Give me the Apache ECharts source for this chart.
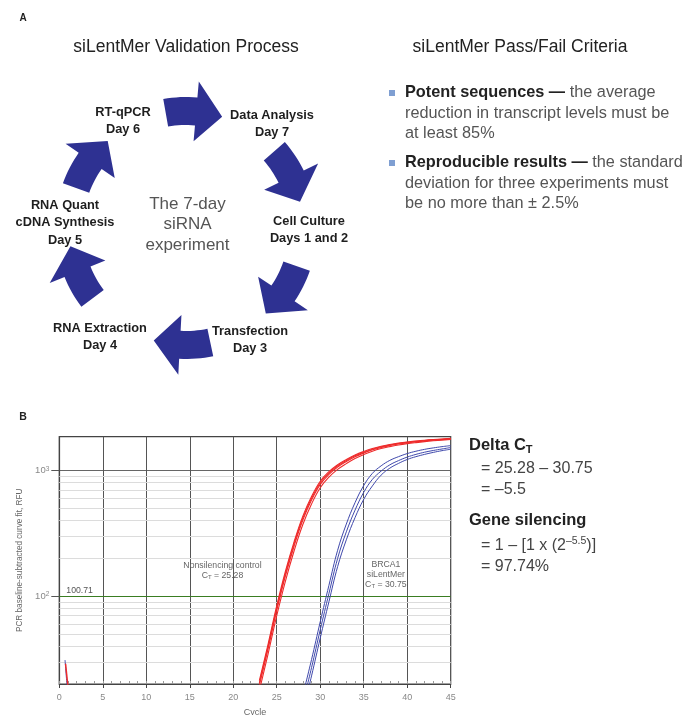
<!DOCTYPE html>
<html>
<head>
<meta charset="utf-8">
<title>siLentMer validation</title>
<script src="https://cdn.jsdelivr.net/npm/echarts@6.0.0/dist/echarts.min.js"></script>
<style>
  html, body { margin: 0; padding: 0; background: #fff; }
  #chart { width: 686px; height: 715px; }
</style>
</head>
<body>
<div id="chart"></div>
<script>
// ---- panel B data ----
var redCycles = [23, 24, 25, 26, 27, 28, 29, 30, 31, 32, 33, 34, 35, 36, 37, 38, 39, 40, 41, 42, 43, 44, 45];
var redRep1 = [19.5, 38, 77, 145, 251, 403, 582, 776, 933, 1067, 1180, 1288, 1380, 1462, 1528, 1581, 1626, 1663, 1694, 1722, 1746, 1766, 1786];
var redRep2 = [21.3, 41.4, 84, 158, 272, 434, 622, 822, 980, 1113, 1224, 1329, 1418, 1497, 1560, 1611, 1654, 1689, 1718, 1744, 1766, 1784, 1803];
var redRep3 = [17.7, 34.6, 70, 132, 230, 372, 542, 730, 886, 1021, 1136, 1247, 1342, 1427, 1496, 1551, 1598, 1637, 1670, 1700, 1726, 1748, 1769];
var redRep4 = [20.4, 39.7, 80.5, 151.5, 262, 419, 603, 800, 957, 1091, 1203, 1309, 1400, 1480, 1545, 1597, 1641, 1677, 1707, 1734, 1757, 1776, 1795];

var blueCycles = [28, 29, 30, 31, 32, 33, 34, 35, 36, 37, 38, 39, 40, 41, 42, 43, 44, 45];
var blueRep1 = [16.3, 31.3, 62.6, 122, 232, 375, 555, 760, 950, 1090, 1205, 1290, 1365, 1425, 1475, 1515, 1550, 1580];
var blueRep2 = [14, 27, 54, 105, 200, 325, 484, 671, 851, 990, 1110, 1200, 1280, 1345, 1400, 1445, 1485, 1525];
var blueRep3 = [12, 23.2, 46.4, 90.3, 172, 281, 422, 590, 755, 920, 1045, 1140, 1225, 1290, 1345, 1395, 1440, 1478];

// short fitted tails at the very start of the run
var redStartCycles = [0.72, 0.98];
var redStart = [29, 19.5];
var blueStartCycles = [0.66, 0.9];
var blueStart = [31, 19];

var threshold = 100.71;
var yTickValues = [100, 1000];
var minorGridValues = [30, 40, 50, 60, 70, 80, 90, 200, 300, 400, 500, 600, 700, 800, 900];
var ctControl = '25.28';
var ctBrca = '30.75';

// ---- panel A text ----
var stepLabels = [
  ['RT-qPCR', 'Day 6'],
  ['Data Analysis', 'Day 7'],
  ['Cell Culture', 'Days 1 and 2'],
  ['Transfection', 'Day 3'],
  ['RNA Extraction', 'Day 4'],
  ['RNA Quant', 'cDNA Synthesis', 'Day 5']
];
var centerLines = ['The 7-day', 'siRNA', 'experiment'];
var criteria = [
  { bold: 'Potent sequences \u2014', lines: ['the average', 'reduction in transcript levels must be', 'at least 85%'] },
  { bold: 'Reproducible results \u2014', lines: ['the standard', 'deviation for three experiments must', 'be no more than \u00b1 2.5%'] }
];

var FF = '"Liberation Sans", Arial, Helvetica, sans-serif';
var RED = '#ee2b2b';
var BLUE = '#3f48ab';
var NAVY = '#2e3192';

function pairs(xs, ys) {
  return xs.map(function (x, i) { return [x, ys[i]]; });
}

function curve(xs, ys, color, width) {
  return {
    type: 'line', data: pairs(xs, ys), smooth: 0.4,
    symbol: 'none', silent: true, clip: true, z: 5,
    lineStyle: { color: color, width: width || 1 }
  };
}

// curved arrows of the cycle (panel A)
function arrowPoints(cx, cy, r, midDeg) {
  var w = 14, hw = 30, shaft = 15, head = 13;
  var t0 = midDeg - (shaft + head) / 2, t1 = t0 + shaft, t2 = t1 + head;
  function pt(deg, rad) {
    var a = deg * Math.PI / 180;
    return [cx + rad * Math.cos(a), cy + rad * Math.sin(a)];
  }
  var pts = [], i;
  for (i = 0; i <= 8; i++) pts.push(pt(t0 + shaft * i / 8, r + w));
  pts.push(pt(t1, r + hw));
  pts.push(pt(t2, r));
  pts.push(pt(t1, r - hw));
  for (i = 8; i >= 0; i--) pts.push(pt(t0 + shaft * i / 8, r - w));
  return pts;
}

var arrowAngles = [-86, -27, 33, 92, 157, 214];
var stepPos = [[123, 112], [272, 115], [309, 221], [250, 331], [100, 328], [65, 205]];

var graphics = [];
graphics.push({ type: 'text', x: 23, y: 18, style: { text: 'A', fontFamily: FF, fontSize: 10, fontWeight: 'bold', fill: '#222', align: 'center', verticalAlign: 'middle' } });
graphics.push({ type: 'text', x: 23, y: 417, style: { text: 'B', fontFamily: FF, fontSize: 10.5, fontWeight: 'bold', fill: '#222', align: 'center', verticalAlign: 'middle' } });
graphics.push({ type: 'text', x: 186, y: 47, style: { text: 'siLentMer Validation Process', fontFamily: FF, fontSize: 17.5, fill: '#222', align: 'center', verticalAlign: 'middle' } });
graphics.push({ type: 'text', x: 520, y: 47, style: { text: 'siLentMer Pass/Fail Criteria', fontFamily: FF, fontSize: 17.5, fill: '#222', align: 'center', verticalAlign: 'middle' } });

arrowAngles.forEach(function (a) {
  graphics.push({ type: 'polygon', shape: { points: arrowPoints(186, 228, 117, a) }, style: { fill: NAVY } });
});

stepLabels.forEach(function (lines, i) {
  lines.forEach(function (t, k) {
    graphics.push({
      type: 'text', x: stepPos[i][0], y: stepPos[i][1] + k * 17.5,
      style: { text: t, fontFamily: FF, fontSize: 12.8, fontWeight: 'bold', fill: '#1e1e1e', align: 'center', verticalAlign: 'middle' }
    });
  });
});

centerLines.forEach(function (t, k) {
  graphics.push({
    type: 'text', x: 187.5, y: 204 + k * 20.5,
    style: { text: t, fontFamily: FF, fontSize: 17, fill: '#555', align: 'center', verticalAlign: 'middle' }
  });
});

var critTop = [93, 163];
criteria.forEach(function (c, i) {
  graphics.push({ type: 'rect', shape: { x: 389, y: critTop[i] - 3, width: 6, height: 6 }, style: { fill: '#7f9fd2' } });
  var txt = '{b|' + c.bold + '} {r|' + c.lines[0] + '}';
  for (var k = 1; k < c.lines.length; k++) txt += '\n{r|' + c.lines[k] + '}';
  graphics.push({
    type: 'text', x: 405, y: critTop[i] - 10.25,
    style: {
      text: txt, fontFamily: FF, fontSize: 16.3, fill: '#555', align: 'left', verticalAlign: 'top',
      rich: {
        b: { fontFamily: FF, fontSize: 16.3, fontWeight: 'bold', fill: '#222', lineHeight: 20.5 },
        r: { fontFamily: FF, fontSize: 16.3, fill: '#555', lineHeight: 20.5 }
      }
    }
  });
});

// panel B right-hand calculation
var calcRich = {
  b: { fontFamily: FF, fontSize: 16.5, fontWeight: 'bold', fill: '#222', lineHeight: 20 },
  bs: { fontFamily: FF, fontSize: 11, fontWeight: 'bold', fill: '#222', lineHeight: 11, verticalAlign: 'bottom' },
  r: { fontFamily: FF, fontSize: 16, fill: '#444', lineHeight: 20 },
  sup: { fontFamily: FF, fontSize: 10.5, fill: '#444', lineHeight: 10.5, verticalAlign: 'top' }
};
var calcLines = [
  [469, 445, '{b|Delta C}{bs|T}'],
  [481, 469, '{r|= ' + ctControl + ' \u2013 ' + ctBrca + '}'],
  [481, 490, '{r|= \u20135.5}'],
  [469, 520, '{b|Gene silencing}'],
  [481, 546, '{r|= 1 \u2013 [1 x (2}{sup|\u20135.5}{r|)]}'],
  [481, 567, '{r|= 97.74%}']
];
calcLines.forEach(function (l) {
  graphics.push({
    type: 'text', x: l[0], y: l[1],
    style: { text: l[2], fontFamily: FF, fontSize: 16, fill: '#444', align: 'left', verticalAlign: 'middle', rich: calcRich }
  });
});

var annotRich = {
  n: { fontFamily: FF, fontSize: 8.7, color: '#666', lineHeight: 10 },
  s: { fontFamily: FF, fontSize: 6, color: '#666', lineHeight: 6, verticalAlign: 'bottom' }
};

var series = [
  {
    type: 'line', data: [], silent: true, z: 1,
    markLine: {
      silent: true, symbol: 'none', animation: false,
      label: { show: false },
      lineStyle: { color: '#dcdcdc', width: 1.2, type: 'solid' },
      data: minorGridValues.map(function (v) { return { yAxis: v }; })
    }
  },
  {
    type: 'line', data: [], silent: true, z: 3,
    markLine: {
      silent: true, symbol: 'none', animation: false,
      lineStyle: { color: '#3a7d22', width: 1.2, type: 'solid' },
      label: {
        show: true, position: 'insideStartTop', distance: 1, padding: [0, 0, 0, 6],
        formatter: function () { return threshold.toFixed(2); },
        color: '#555', fontSize: 8.7, fontFamily: FF
      },
      data: [{ yAxis: threshold }]
    }
  },
  curve(redCycles, redRep1, RED, 1.1),
  curve(redCycles, redRep2, RED, 1.1),
  curve(redCycles, redRep3, RED, 1.1),
  curve(redCycles, redRep4, RED, 1.1),
  curve(blueCycles, blueRep1, BLUE),
  curve(blueCycles, blueRep2, BLUE),
  curve(blueCycles, blueRep3, BLUE),
  curve(blueStartCycles, blueStart, BLUE),
  curve(redStartCycles, redStart, RED, 1.5),
  {
    type: 'line', data: [], silent: true, z: 6,
    markPoint: {
      silent: true, symbol: 'circle', symbolSize: 0, itemStyle: { color: 'rgba(0,0,0,0)' },
      label: { show: true, position: 'inside', align: 'center', rich: annotRich },
      data: [
        { coord: [18.76, 160], label: { formatter: function () { return '{n|Nonsilencing control}\n{n|C}{s|T}{n| = ' + ctControl + '}'; } } },
        { coord: [37.55, 148], label: { formatter: function () { return '{n|BRCA1}\n{n|siLentMer}\n{n|C}{s|T}{n| = ' + ctBrca + '}'; } } }
      ]
    }
  }
];

var chart = echarts.init(document.getElementById('chart'), null, { renderer: 'canvas' });
chart.setOption({
  backgroundColor: '#fff',
  animation: false,
  textStyle: { fontFamily: FF },
  grid: {
    left: 59.3, top: 436.7, width: 391.4, height: 247.3,
    show: true, borderColor: '#444', borderWidth: 1.2,
    outerBoundsMode: 'none'
  },
  xAxis: [
    {
      type: 'value', min: 0, max: 45, interval: 5,
      name: 'Cycle', nameLocation: 'middle', nameGap: 24,
      nameTextStyle: { color: '#666', fontSize: 9 },
      axisLine: { show: true, lineStyle: { color: '#444', width: 1.2 } },
      axisTick: { show: true, length: 4, lineStyle: { color: '#444' } },
      axisLabel: { color: '#888', fontSize: 9, margin: 9 },
      splitLine: { show: true, lineStyle: { color: '#555', width: 1 } }
    },
    {
      type: 'value', min: 0, max: 45, interval: 1, position: 'bottom',
      axisLine: { show: false },
      axisTick: { show: true, inside: true, length: 3, lineStyle: { color: '#999' } },
      axisLabel: { show: false },
      splitLine: { show: false }
    }
  ],
  yAxis: {
    type: 'log', logBase: 10, min: 20, max: 1860,
    name: 'PCR baseline-subtracted curve fit, RFU', nameLocation: 'middle', nameGap: 32,
    nameTextStyle: { color: '#666', fontSize: 8.2 },
    axisLine: { show: true, lineStyle: { color: '#444', width: 1.2 } },
    axisTick: { show: true, length: 8, customValues: yTickValues, lineStyle: { color: '#555' } },
    axisLabel: {
      color: '#888', fontSize: 9.5, margin: 10,
      customValues: yTickValues,
      formatter: function (v) {
        var p = Math.round(Math.log(v) / Math.LN10);
        return '10{sup|' + p + '}';
      },
      rich: { sup: { fontSize: 6.5, color: '#888', verticalAlign: 'top', lineHeight: 6.5 } }
    },
    splitLine: { show: true, lineStyle: { color: '#666', width: 1 } }
  },
  series: series,
  graphic: graphics
});
</script>
</body>
</html>
